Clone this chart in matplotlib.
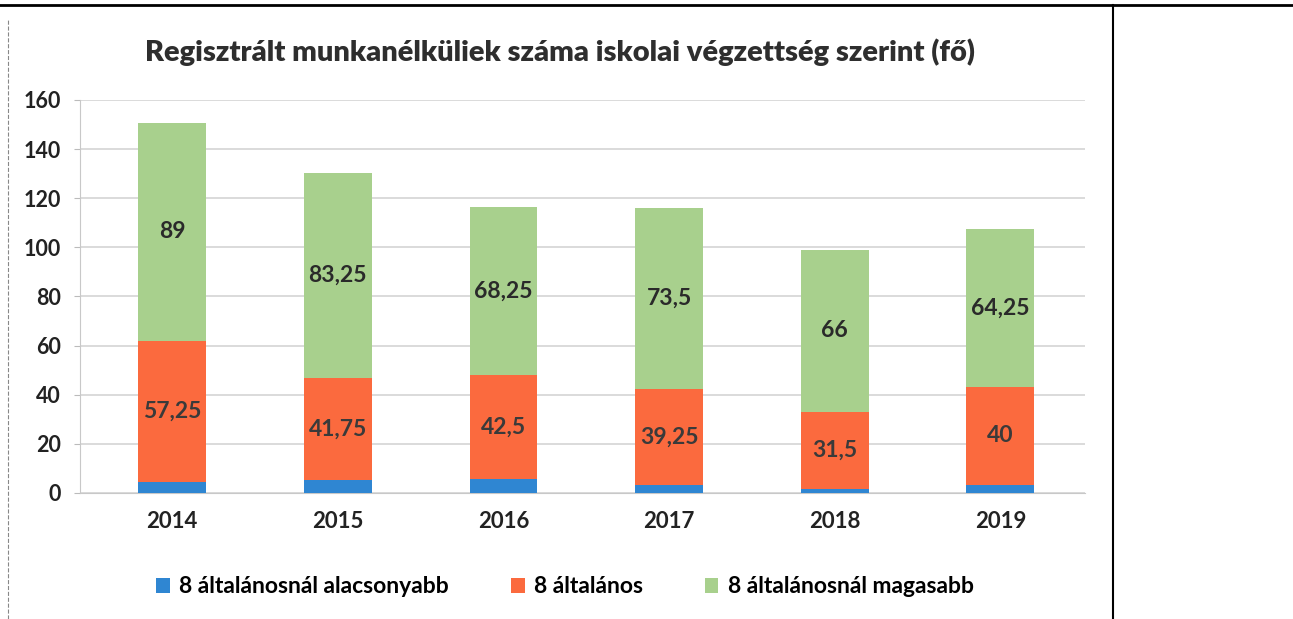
import matplotlib
matplotlib.use("Agg")
import matplotlib.pyplot as plt
import numpy as np

plt.rcParams['font.family'] = ['Lato', 'DejaVu Sans']

# adatok
evek = ['2014', '2015', '2016', '2017', '2018', '2019']
alacsonyabb = [4.5, 5.25, 5.5, 3.25, 1.5, 3.25]
altalanos = [57.25, 41.75, 42.5, 39.25, 31.5, 40]
magasabb = [89, 83.25, 68.25, 73.5, 66, 64.25]
altalanos_cimke = ['57,25', '41,75', '42,5', '39,25', '31,5', '40']
magasabb_cimke = ['89', '83,25', '68,25', '73,5', '66', '64,25']
sorozatok = ['8 általánosnál alacsonyabb', '8 általános', '8 általánosnál magasabb']
y_ticks = [0, 20, 40, 60, 80, 100, 120, 140, 160]

kek = '#2f86d2'
narancs = '#fb6a3e'
zold = '#a8d08d'

fig = plt.figure(figsize=(12.93, 6.19), dpi=100)
ax = fig.add_axes([0.062, 0.2036, 0.777, 0.635])

x = np.arange(len(evek))
w = 0.41
b1 = np.array(alacsonyabb)
b2 = b1 + np.array(altalanos)

ax.bar(x, alacsonyabb, w, color=kek, label=sorozatok[0], zorder=3)
ax.bar(x, altalanos, w, bottom=b1, color=narancs, label=sorozatok[1], zorder=3)
ax.bar(x, magasabb, w, bottom=b2, color=zold, label=sorozatok[2], zorder=3)

for i in range(len(evek)):
    ax.text(x[i], b1[i] + altalanos[i] / 2, altalanos_cimke[i], ha='center', va='center',
            fontsize=16.5, fontweight='bold', color='#3a3a3a', zorder=4)
    ax.text(x[i], b2[i] + magasabb[i] / 2, magasabb_cimke[i], ha='center', va='center',
            fontsize=16.5, fontweight='bold', color='#2a2a2a', zorder=4)

ax.set_xlim(-0.556, 5.51)
ax.set_ylim(0, 160)
ax.set_yticks(y_ticks)
ax.set_yticklabels([str(v) for v in y_ticks], fontsize=15.5, fontweight='bold', color='#222222')
ax.set_xticks(x)
ax.set_xticklabels(evek, fontsize=16, fontweight='bold', color='#222222')
ax.tick_params(axis='x', length=0, pad=13)
ax.tick_params(axis='y', length=4, color='#bbbbbb', pad=10)
ax.grid(axis='y', color='#d4d4d4', linewidth=1.2, zorder=0)
for s in ['top', 'right']:
    ax.spines[s].set_visible(False)
ax.spines['left'].set_color('#c8c8c8')
ax.spines['bottom'].set_color('#c8c8c8')

ax.set_title('Regisztrált munkanélküliek száma iskolai végzettség szerint (fő)',
             fontsize=21, fontweight='heavy', color='#2e2e2e', pad=28, x=0.478)

fig.legend(loc='center', bbox_to_anchor=(0.437, 0.052), ncol=3, frameon=False,
           handlelength=0.6, handleheight=0.6, columnspacing=2.7,
           handletextpad=0.4, prop={'weight': 'bold', 'size': 16.5})

# keret a beszkennelt kep szelein
fig.add_artist(plt.Line2D([0, 1], [0.992, 0.992], color='black', linewidth=2))
fig.add_artist(plt.Line2D([0.861, 0.861], [0, 0.992], color='black', linewidth=1.5))
fig.add_artist(plt.Line2D([0.006, 0.006], [0, 0.97], color='#888888', linewidth=0.8, linestyle='--'))

fig.savefig('out.png', dpi=100)
